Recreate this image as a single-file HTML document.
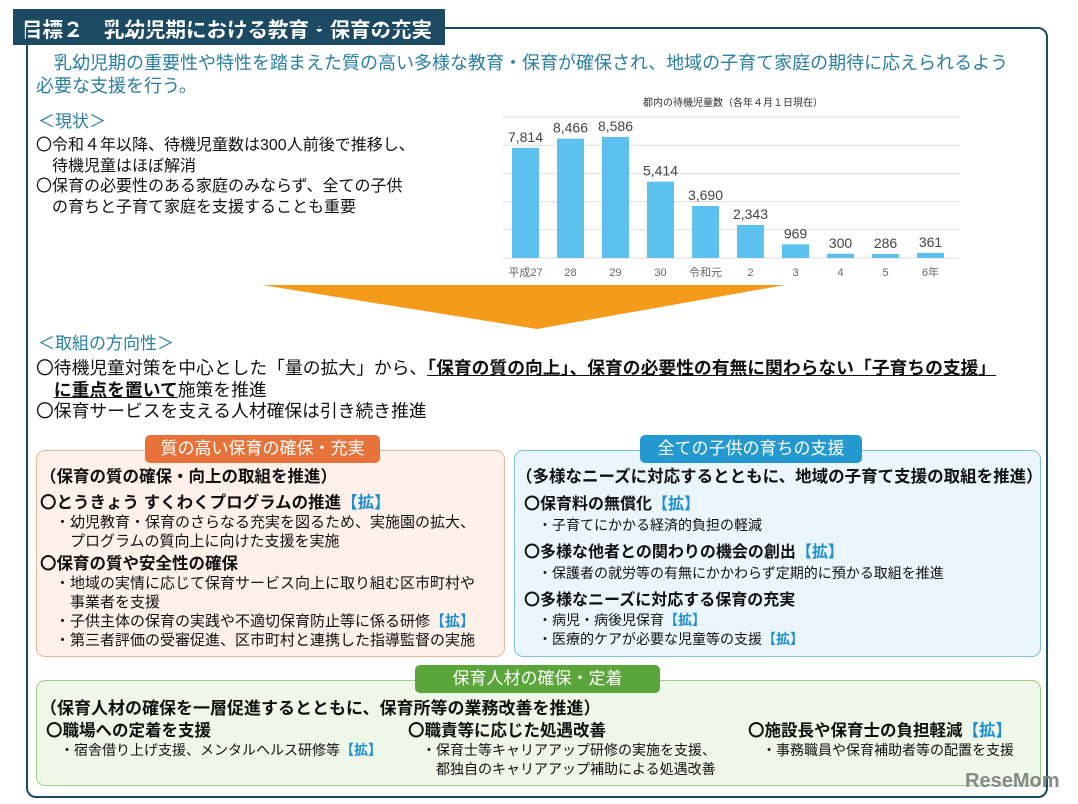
<!DOCTYPE html>
<html><head><meta charset="utf-8"><style>
body{margin:0;width:1078px;height:804px;position:relative;background:#fff;font-family:"Liberation Sans","Noto Sans CJK JP",sans-serif;color:#111;overflow:hidden}
.a{position:absolute;white-space:nowrap}
.teal{color:#2a7fa0}
.b{font-weight:bold}
.blue{color:#1f8fd0;font-weight:bold}
.box{position:absolute;border-radius:9px}
.tab{position:absolute;border-radius:5px;color:#fff;font-size:17px;text-align:center;line-height:28px}
.h{font-size:16.5px;font-weight:bold}
.s{font-size:14px}
</style></head><body>
<div class="a" style="left:13px;top:9px;width:432px;height:36px;background:#1b4a62"></div>
<div class="a" style="left:22px;top:13px;font-size:20.5px;font-weight:bold;color:#fff">目標２　乳幼児期における教育・保育の充実</div>
<div class="a" style="left:26px;top:27px;width:1022px;height:771px;border:2px solid #1b4a62;border-radius:0 10px 10px 10px;box-sizing:border-box"></div>
<div class="a teal" style="left:36px;top:52px;font-size:18px;line-height:23px">　乳幼児期の重要性や特性を踏まえた質の高い多様な教育・保育が確保され、地域の子育て家庭の期待に応えられるよう<br>必要な支援を行う。</div>
<div class="a teal" style="left:38px;top:107px;font-size:17px">＜現状＞</div>
<div class="a" style="left:36px;top:136px;font-size:16px;line-height:20.5px">〇令和４年以降、待機児童数は300人前後で推移し、<br>　待機児童はほぼ解消<br>〇保育の必要性のある家庭のみならず、全ての子供<br>　の育ちと子育て家庭を支援することも重要</div>

<svg class="a" style="left:0;top:0" width="1078" height="340">
<text x="733" y="106" font-size="10" text-anchor="middle" fill="#333" font-family="Liberation Sans,Noto Sans CJK JP,sans-serif">都内の待機児童数（各年４月１日現在）</text>
<g id="grid"></g><g id="bars"></g>
<polygon points="262,285 785,285 537,329" fill="#f59b1c"/>
</svg>

<div class="a teal" style="left:38px;top:329px;font-size:17px">＜取組の方向性＞</div>
<div class="a" style="left:36px;top:358px;font-size:17.8px;line-height:21.5px">〇待機児童対策を中心とした「量の拡大」から、<span class="b" style="text-decoration:underline">「保育の質の向上」、保育の必要性の有無に関わらない「子育ちの支援」</span><br>　<span class="b" style="text-decoration:underline">に重点を置いて</span>施策を推進<br>〇保育サービスを支える人材確保は引き続き推進</div>

<div class="box" style="left:36px;top:450px;width:469px;height:207px;background:#fdf1ea;border:1px solid #e6b79c;box-sizing:border-box"></div>
<div class="tab" style="left:145px;top:435px;width:235px;background:#e8733a">質の高い保育の確保・充実</div>
<div class="a" style="left:40px;top:467px;line-height:20px">
<div class="h">（保育の質の確保・向上の取組を推進）</div>
<div class="h" style="margin-top:6px">〇とうきょう すくわくプログラムの推進<span class="blue">【拡】</span></div>
<div class="s" style="line-height:19px;font-size:15px">　・幼児教育・保育のさらなる充実を図るため、実施園の拡大、<br>　　プログラムの質向上に向けた支援を実施</div>
<div class="h" style="margin-top:3px">〇保育の質や安全性の確保</div>
<div class="s" style="line-height:19px;font-size:15px">　・地域の実情に応じて保育サービス向上に取り組む区市町村や<br>　　事業者を支援<br>　・子供主体の保育の実践や不適切保育防止等に係る研修<span class="blue">【拡】</span><br>　・第三者評価の受審促進、区市町村と連携した指導監督の実施</div>
</div>

<div class="box" style="left:514px;top:450px;width:527px;height:207px;background:#eaf6fc;border:1px solid #7fc0dc;box-sizing:border-box"></div>
<div class="tab" style="left:640px;top:435px;width:222px;background:#2399cf">全ての子供の育ちの支援</div>
<div class="a" style="left:516px;top:467px;line-height:20px">
<div class="h">（多様なニーズに対応するとともに、地域の子育て支援の取組を推進）</div>
<div class="h" style="margin-top:8px;padding-left:8px;font-size:16px">〇保育料の無償化<span class="blue">【拡】</span></div>
<div class="s" style="padding-left:8px">　・子育てにかかる経済的負担の軽減</div>
<div class="h" style="margin-top:8px;padding-left:8px;font-size:16px">〇多様な他者との関わりの機会の創出<span class="blue">【拡】</span></div>
<div class="s" style="padding-left:8px">　・保護者の就労等の有無にかかわらず定期的に預かる取組を推進</div>
<div class="h" style="margin-top:8px;padding-left:8px;font-size:16px">〇多様なニーズに対応する保育の充実</div>
<div class="s" style="line-height:19px;padding-left:8px">　・病児・病後児保育<span class="blue">【拡】</span><br>　・医療的ケアが必要な児童等の支援<span class="blue">【拡】</span></div>
</div>

<div class="box" style="left:36px;top:680px;width:1005px;height:106px;background:#eef7e8;border:1px solid #9ccf84;box-sizing:border-box"></div>
<div class="tab" style="left:415px;top:665px;width:245px;background:#5aa63a">保育人材の確保・定着</div>
<div class="a h" style="left:40px;top:694px;font-size:17px">（保育人材の確保を一層促進するとともに、保育所等の業務改善を推進）</div>
<div class="a" style="left:46px;top:722px;line-height:19px"><div class="h">〇職場への定着を支援</div><div class="s">　・宿舎借り上げ支援、メンタルヘルス研修等<span class="blue">【拡】</span></div></div>
<div class="a" style="left:408px;top:722px;line-height:19px"><div class="h">〇職責等に応じた処遇改善</div><div class="s">　・保育士等キャリアアップ研修の実施を支援、<br>　　都独自のキャリアアップ補助による処遇改善</div></div>
<div class="a" style="left:748px;top:722px;line-height:19px"><div class="h">〇施設長や保育士の負担軽減<span class="blue">【拡】</span></div><div class="s">　・事務職員や保育補助者等の配置を支援</div></div>
<div class="a" style="left:965px;top:770px;font-size:20px;font-weight:bold;color:#888">ReseMom</div>

<script>
const categories=["平成27","28","29","30","令和元","2","3","4","5","6年"];
const values=[7814,8466,8586,5414,3690,2343,969,300,286,361];
const valueLabels=["7,814","8,466","8,586","5,414","3,690","2,343","969","300","286","361"];
const gridTicks=[0,2000,4000,6000,8000,10000];
const NS="http://www.w3.org/2000/svg";
const y0=258,yTop=117,maxV=10000,x0=503,step=45,bw=27;
const y=v=>y0-(v/maxV)*(y0-yTop);
const xc=i=>x0+step*(i+0.5);
const grid=document.getElementById('grid'),bars=document.getElementById('bars');
gridTicks.forEach(t=>{const l=document.createElementNS(NS,'line');


l.setAttribute('x1',x0);l.setAttribute('x2',960);l.setAttribute('y1',y(t));l.setAttribute('y2',y(t));
l.setAttribute('stroke','#ddd');l.setAttribute('stroke-width','1');grid.appendChild(l);});
values.forEach((v,i)=>{const r=document.createElementNS(NS,'rect');


r.setAttribute('x',xc(i)-bw/2);r.setAttribute('y',y(v));r.setAttribute('width',bw);r.setAttribute('height',y0-y(v));
r.setAttribute('fill','#5cc1ee');bars.appendChild(r);
const t=document.createElementNS(NS,'text');


t.setAttribute('x',xc(i));t.setAttribute('y',y(v)-6);t.setAttribute('text-anchor','middle');t.setAttribute('font-size','14');t.setAttribute('fill','#444');
t.setAttribute('font-family','Liberation Sans,sans-serif');t.textContent=valueLabels[i];bars.appendChild(t);
const c=document.createElementNS(NS,'text');


c.setAttribute('x',xc(i));c.setAttribute('y',276);c.setAttribute('text-anchor','middle');c.setAttribute('font-size','11');c.setAttribute('fill','#666');
c.setAttribute('font-family','Liberation Sans,Noto Sans CJK JP,sans-serif');c.textContent=categories[i];bars.appendChild(c);});
</script>
</body></html>
